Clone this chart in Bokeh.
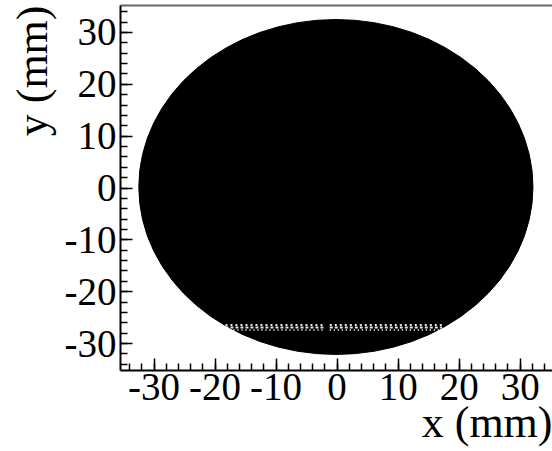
import math
from bokeh.plotting import figure
from bokeh.models import (SingleIntervalTicker, Range1d, PrintfTickFormatter,
                          LinearAxis, FixedTicker, Title)
from bokeh.embed import file_html
from bokeh.resources import INLINE

# ---- data ----
x_limits = [-35.5, 35.3]
y_limits = [-35.2, 35.2]
tick_interval = 10
disk_x = [-0.2]
disk_y = [0.2]
disk_diameter = [64.6]
# sparse (speckled) row inside the disk: two stretches, three sub-rows
band_x0 = [-18.3, -1.2]
band_x1 = [-2.2, 17.2]
band_rows = [-26.4, -26.9, -27.4]
band_dashes = ["2 3", "3 2", "1 3"]
x_title = "x (mm)"
y_title = "y (mm)"

FONT = "Liberation Serif"

p = figure(width=552, height=451, output_backend="svg", toolbar_location=None,
           x_range=Range1d(*x_limits), y_range=Range1d(*y_limits),
           min_border_left=120, min_border_right=0, min_border_top=5,
           min_border_bottom=81)

p.background_fill_color = "white"
p.border_fill_color = "white"
p.xgrid.visible = False
p.ygrid.visible = False
p.outline_line_color = None

p.ellipse(x=disk_x, y=disk_y, width=disk_diameter, height=disk_diameter,
          fill_color="black", line_color="black", line_width=1)
for row, dash in zip(band_rows, band_dashes):
    p.segment(x0=band_x0, y0=[row] * len(band_x0), x1=band_x1,
              y1=[row] * len(band_x1), line_color="white", line_width=2,
              line_dash=dash, line_alpha=0.9)

for ax in (p.xaxis[0], p.yaxis[0]):
    ax.ticker = SingleIntervalTicker(interval=tick_interval, num_minor_ticks=5)
    ax.formatter = PrintfTickFormatter(format="%d")
    ax.axis_line_width = 2
    ax.axis_line_color = "black"
    ax.major_tick_in = 12
    ax.major_tick_out = 0
    ax.minor_tick_in = 7
    ax.minor_tick_out = 0
    ax.major_tick_line_width = 1.5
    ax.minor_tick_line_width = 1.5
    ax.major_label_text_font = FONT
    ax.major_label_text_font_size = "39px"
    ax.major_label_text_color = "black"

p.xaxis[0].major_label_standoff = 3
p.yaxis[0].major_label_standoff = 4

# axis titles, right/top aligned as in the reference
p.add_layout(Title(text=x_title, align="right", text_font=FONT,
                   text_font_size="44px", text_font_style="normal",
                   text_color="black", standoff=-14), "below")
p.add_layout(Title(text=y_title, align="right", vertical_align="middle",
                   text_font=FONT, text_font_size="44px",
                   text_font_style="normal", text_color="black",
                   standoff=8), "left")

# thin grey frame line along the top, as in the reference
top = LinearAxis(ticker=FixedTicker(ticks=[]), axis_line_color="#666666",
                 axis_line_width=2, major_tick_line_color=None,
                 minor_tick_line_color=None, major_label_text_font_size="0px",
                 major_label_standoff=0)
p.add_layout(top, "above")

open("out.html", "w").write(file_html(p, INLINE))
